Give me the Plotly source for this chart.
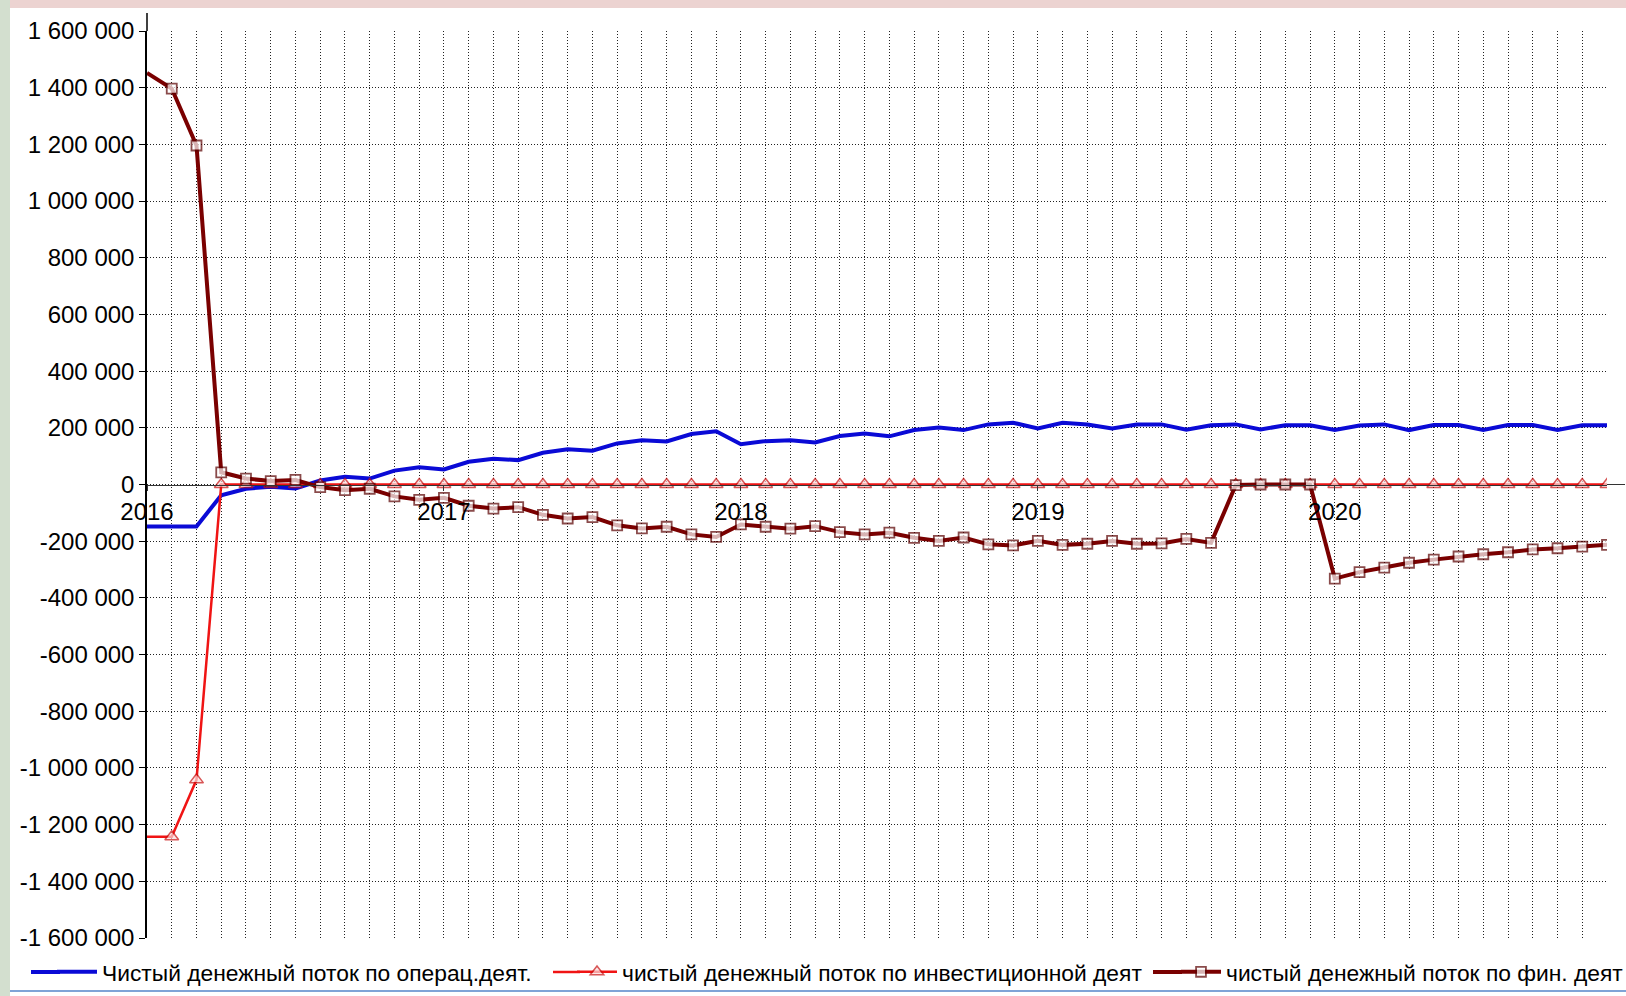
import plotly.graph_objects as go

# monthly data, Jan 2016 .. Dec 2020 (index 0..59)
oper = [-148000, -148000, -148000, -38000, -15000, -8000, -14000, 14000, 27000, 21000, 49000, 61000,
        53000, 80000, 91000, 86000, 112000, 124000, 119000, 145000, 156000, 152000, 178000, 188000,
        142000, 153000, 156000, 148000, 171000, 180000, 170000, 192000, 201000, 192000, 212000, 218000,
        198000, 218000, 212000, 198000, 212000, 212000, 193000, 209000, 212000, 194000, 209000, 209000,
        192000, 208000, 212000, 192000, 210000, 210000, 192000, 210000, 210000, 192000, 209000, 209000]

invest = [-1243000, -1243000, -1042000, 0, 0, 0, 0, 0, 0, 0, 0, 0,
          0, 0, 0, 0, 0, 0, 0, 0, 0, 0, 0, 0,
          0, 0, 0, 0, 0, 0, 0, 0, 0, 0, 0, 0,
          0, 0, 0, 0, 0, 0, 0, 0, 0, 0, 0, 0,
          0, 0, 0, 0, 0, 0, 0, 0, 0, 0, 0, 0]

fin = [1452000, 1397000, 1196000, 43000, 21000, 12000, 16000, -9000, -20000, -15000, -42000, -54000,
       -47000, -75000, -85000, -80000, -107000, -120000, -115000, -144000, -155000, -149000, -176000, -185000,
       -141000, -149000, -156000, -147000, -168000, -176000, -170000, -188000, -199000, -187000, -211000, -215000,
       -199000, -213000, -209000, -199000, -209000, -208000, -192000, -206000, -2000, 0, 0, 0,
       -332000, -309000, -293000, -276000, -265000, -254000, -246000, -239000, -229000, -225000, -219000, -213000]

names = ["Чистый денежный поток по операц.деят.",
         "чистый денежный поток по инвестиционной деят",
         "чистый денежный поток по фин. деят"]

years = ["2016", "2017", "2018", "2019", "2020"]
y_ticks = [1600000, 1400000, 1200000, 1000000, 800000, 600000, 400000, 200000, 0,
           -200000, -400000, -600000, -800000, -1000000, -1200000, -1400000, -1600000]
y_labels = ["1 600 000", "1 400 000", "1 200 000", "1 000 000", "800 000", "600 000", "400 000", "200 000", "0",
            "-200 000", "-400 000", "-600 000", "-800 000", "-1 000 000", "-1 200 000", "-1 400 000", "-1 600 000"]

x = list(range(len(oper)))
n = len(x)

BLUE, RED, BROWN = "#0a0ad6", "#f01414", "#7a0000"

fig = go.Figure()
fig.add_trace(go.Scatter(x=x, y=oper, mode="lines", name=names[0], legend="legend",
                         line=dict(color=BLUE, width=4)))
fig.add_trace(go.Scatter(x=x, y=invest, mode="lines+markers", name=names[1], legend="legend2",
                         line=dict(color=RED, width=2.5),
                         marker=dict(symbol="triangle-up", size=[0] + [12] * (n - 1), color="#fbdede",
                                     line=dict(color="#c81010", width=1.5))))
fig.add_trace(go.Scatter(x=x, y=fin, mode="lines+markers", name=names[2], legend="legend3",
                         line=dict(color=BROWN, width=4),
                         marker=dict(symbol="square", size=[0] + [10] * (n - 1), color="#ffffff",
                                     line=dict(color="#5a0000", width=1.8))))

W, H = 1626, 996
L, R, T, B = 147, 19, 31, 58
pw, ph = W - L - R, H - T - B
dotted = "1px,2px"
LEG_Y = 972  # legend row centre, px from top


def leg(x_px):
    return dict(orientation="h", xref="container", yref="container",
                x=x_px / W, xanchor="left", y=1 - LEG_Y / H, yanchor="middle",
                font=dict(size=22.8), itemwidth=40,
                bgcolor="rgba(0,0,0,0)", borderwidth=0)


fig.update_layout(
    template="none",
    width=W, height=H,
    margin=dict(l=L, r=R, t=T, b=B, pad=0),
    paper_bgcolor="white", plot_bgcolor="white",
    font=dict(family="Liberation Sans, Arial, sans-serif", size=23, color="black"),
    showlegend=True,
    legend=leg(52), legend2=leg(572), legend3=leg(1176),
    xaxis=dict(range=[0, n - 1], tickvals=[0, 12, 24, 36, 48], ticktext=years,
               anchor="free", position=0.5, automargin=False,
               showline=True, linecolor="#333333", linewidth=1,
               ticks="outside", ticklen=5, tickcolor="#333333", ticklabelstandoff=1,
               tickfont=dict(size=24),
               showgrid=True, gridcolor="#222222", gridwidth=1, griddash=dotted,
               minor=dict(dtick=1, tick0=0, ticks="", showgrid=True, gridcolor="#222222",
                          gridwidth=1, griddash=dotted),
               zeroline=False),
    yaxis=dict(range=[-1600000, 1600000], tickvals=y_ticks, ticktext=y_labels, automargin=False,
               showline=True, linecolor="black", linewidth=1.5,
               ticks="outside", ticklen=6, tickcolor="black", ticklabelstandoff=0,
               tickfont=dict(size=24),
               showgrid=True, gridcolor="#222222", gridwidth=1, griddash=dotted,
               zeroline=False),
)

# y axis line runs a bit above the top gridline; zero line runs past the right edge
fig.add_shape(type="line", xref="paper", yref="paper", x0=0, x1=0, y0=1, y1=1 + 18 / ph,
              line=dict(color="black", width=1.5))
fig.add_shape(type="line", xref="paper", yref="y", x0=1, x1=1 + 18 / pw, y0=0, y1=0,
              line=dict(color="#333333", width=1))

# longer legend sample lines, as in the original legend
ly = (H - B - LEG_Y) / ph
for x0, x1, col, w in [(31, 60, BLUE, 4), (553, 580, RED, 2.5), (1153, 1182, BROWN, 4)]:
    fig.add_shape(type="line", xref="paper", yref="paper", x0=(x0 - L) / pw, x1=(x1 - L) / pw,
                  y0=ly, y1=ly, line=dict(color=col, width=w))

# slide background around the white chart panel
fig.add_shape(type="rect", xref="paper", yref="paper", layer="below", line_width=0,
              x0=-L / pw, x1=1 + R / pw, y0=1 + (T - 8) / ph, y1=1 + T / ph, fillcolor="#ecd3d1")
fig.add_shape(type="rect", xref="paper", yref="paper", layer="below", line_width=0,
              x0=-L / pw, x1=(10 - L) / pw, y0=-B / ph, y1=1 + T / ph, fillcolor="#d3dfcf")
fig.add_shape(type="line", xref="paper", yref="paper", layer="below",
              x0=(10 - L) / pw, x1=1 + R / pw, y0=-(B - 5) / ph, y1=-(B - 5) / ph,
              line=dict(color="#7fa3d6", width=2))

fig.write_html("out.html", config={"displayModeBar": False},
               post_script="document.body.style.margin='0px';")
